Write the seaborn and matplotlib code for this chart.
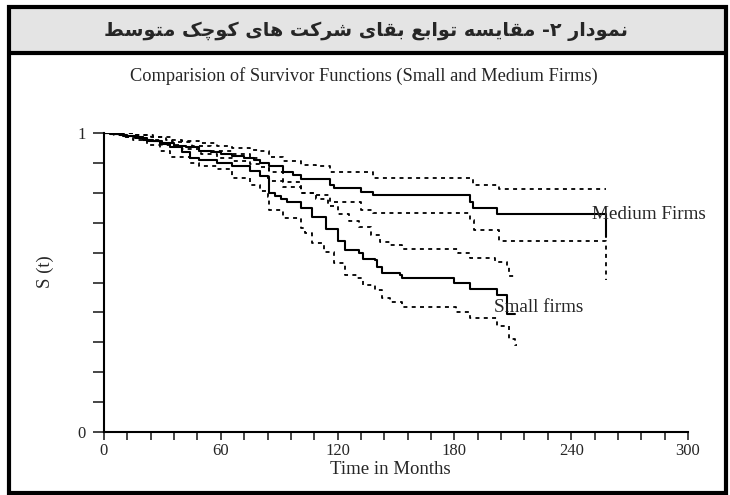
import matplotlib
matplotlib.use("Agg")
import matplotlib.pyplot as plt
from matplotlib.patches import Rectangle
from matplotlib.ticker import MultipleLocator
import seaborn as sns
import pandas as pd

# ─────────────────────────────────────────────
# DATA (step-change points)
# ─────────────────────────────────────────────
med_t = [0, 3, 8, 12, 16, 20, 25, 30, 36, 42, 49, 55, 60, 66, 72, 77, 80, 85, 92, 97,
         101, 116, 118, 132, 138, 188, 189.5, 202, 258]
med_s = [1.0, 0.997, 0.993, 0.99, 0.985, 0.978, 0.972, 0.965, 0.958, 0.952, 0.94, 0.935,
         0.93, 0.923, 0.916, 0.91, 0.90, 0.89, 0.87, 0.86, 0.845, 0.826, 0.816, 0.803,
         0.793, 0.769, 0.749, 0.729, 0.652]

med_up_t = [0, 5, 15, 24, 32, 40, 49, 58, 66, 75, 79, 85, 92, 101, 109, 116, 138, 189.5, 203, 258]
med_up_s = [1.0, 1.0, 0.993, 0.987, 0.977, 0.972, 0.967, 0.958, 0.95, 0.943, 0.94, 0.92,
            0.905, 0.893, 0.89, 0.868, 0.849, 0.826, 0.813, 0.813]

med_lo_t = [0, 5, 12, 20, 30, 40, 50, 58, 66, 75, 80, 85, 92, 101, 109, 116, 132, 138,
            188, 190, 203, 258]
med_lo_s = [1.0, 0.995, 0.987, 0.975, 0.96, 0.945, 0.93, 0.918, 0.908, 0.895, 0.885, 0.84,
            0.82, 0.799, 0.793, 0.768, 0.742, 0.732, 0.709, 0.676, 0.639, 0.508]

small_t = [0, 4, 10, 16, 22, 29, 34, 40, 44, 49, 58, 66, 75, 80, 84, 85, 88, 91, 94, 101,
           107, 114, 120, 124, 131, 133, 139, 140, 143, 152, 153, 180, 188, 202, 207, 211]
small_s = [1.0, 0.995, 0.99, 0.982, 0.973, 0.963, 0.953, 0.935, 0.916, 0.91, 0.9, 0.89,
           0.873, 0.856, 0.85, 0.80, 0.79, 0.78, 0.77, 0.75, 0.72, 0.68, 0.64, 0.61, 0.60,
           0.58, 0.575, 0.552, 0.532, 0.525, 0.515, 0.498, 0.478, 0.458, 0.395, 0.395]

small_up_t = [0, 8, 15, 25, 35, 45, 55, 66, 75, 80, 85, 92, 101, 109, 115, 120, 126, 131,
              137, 142, 147, 153, 182, 188, 201, 207, 208, 212]
small_up_s = [1.0, 1.0, 0.993, 0.985, 0.97, 0.955, 0.94, 0.93, 0.915, 0.9, 0.87, 0.835,
              0.80, 0.78, 0.755, 0.73, 0.705, 0.685, 0.66, 0.635, 0.625, 0.612, 0.599,
              0.582, 0.569, 0.552, 0.522, 0.522]

small_lo_t = [0, 5, 10, 15, 22, 29, 34, 44, 49, 58, 66, 75, 80, 84, 85, 92, 101, 103, 107,
              113, 118, 124, 130, 133, 139, 143, 147, 153, 181, 188, 202, 208, 211, 212]
small_lo_s = [1.0, 0.993, 0.985, 0.975, 0.96, 0.94, 0.92, 0.90, 0.89, 0.88, 0.85, 0.826,
              0.806, 0.786, 0.742, 0.716, 0.682, 0.666, 0.632, 0.602, 0.565, 0.525, 0.515,
              0.492, 0.475, 0.448, 0.435, 0.418, 0.40, 0.38, 0.355, 0.31, 0.29, 0.29]

x_ticks = [0, 60, 120, 180, 240, 300]
y_ticks = [0, 1]

title_fa = "نمودار ۲- مقایسه توابع بقای شرکت های کوچک متوسط"
title_en = "Comparision of Survivor Functions (Small and Medium Firms)"


# ─────────────────────────────────────────────
# minimal Persian shaping (matplotlib does no Arabic joining)
# forms: isolated, final, initial, medial ; None for right-joining letters
# ─────────────────────────────────────────────
FORMS = {
    "ن": (0xFEE5, 0xFEE6, 0xFEE7, 0xFEE8), "م": (0xFEE1, 0xFEE2, 0xFEE3, 0xFEE4),
    "ق": (0xFED5, 0xFED6, 0xFED7, 0xFED8), "ی": (0xFBFC, 0xFBFD, 0xFBFE, 0xFBFF),
    "س": (0xFEB1, 0xFEB2, 0xFEB3, 0xFEB4), "ه": (0xFEE9, 0xFEEA, 0xFEEB, 0xFEEC),
    "ت": (0xFE95, 0xFE96, 0xFE97, 0xFE98), "ب": (0xFE8F, 0xFE90, 0xFE91, 0xFE92),
    "ع": (0xFEC9, 0xFECA, 0xFECB, 0xFECC), "ش": (0xFEB5, 0xFEB6, 0xFEB7, 0xFEB8),
    "ک": (0xFB8E, 0xFB8F, 0xFB90, 0xFB91), "چ": (0xFB7A, 0xFB7B, 0xFB7C, 0xFB7D),
    "ط": (0xFEC1, 0xFEC2, 0xFEC3, 0xFEC4),
    "و": (0xFEED, 0xFEEE, None, None), "د": (0xFEA9, 0xFEAA, None, None),
    "ا": (0xFE8D, 0xFE8E, None, None), "ر": (0xFEAD, 0xFEAE, None, None),
}


def shape_fa(text):
    out = []
    for i, ch in enumerate(text):
        if ch not in FORMS:
            out.append(ch)
            continue
        f = FORMS[ch]
        prev = text[i - 1] if i > 0 else ""
        nxt = text[i + 1] if i + 1 < len(text) else ""
        join_prev = prev in FORMS and FORMS[prev][2] is not None
        join_next = nxt in FORMS and f[2] is not None
        if join_prev and join_next:
            code = f[3]
        elif join_prev:
            code = f[1]
        elif join_next:
            code = f[2]
        else:
            code = f[0]
        out.append(chr(code))
    return "".join(out)[::-1]


# ─────────────────────────────────────────────
# FIGURE
# ─────────────────────────────────────────────
sns.set_style("ticks")
plt.rcParams["font.family"] = ["Liberation Serif", "DejaVu Serif"]

W, H = 730, 495
fig = plt.figure(figsize=(W / 100, H / 100), dpi=100)
fig.patch.set_facecolor("white")


def fx(px):
    return px / W


def fy(py):
    return 1 - py / H


# frame + grey header band
fig.add_artist(Rectangle((fx(9), fy(52)), fx(717), 45 / H, transform=fig.transFigure,
                         facecolor="#e4e4e4", edgecolor="none", zorder=0))
fig.add_artist(Rectangle((fx(9), fy(493)), fx(717), 486 / H, transform=fig.transFigure,
                         facecolor="none", edgecolor="black", linewidth=3, zorder=5))
fig.add_artist(plt.Line2D([fx(9), fx(726)], [fy(53), fy(53)], transform=fig.transFigure,
                          color="black", linewidth=3, zorder=5))

fig.text(fx(366), fy(31), shape_fa(title_fa), ha="center", va="center", fontsize=13.8,
         fontweight="bold", family=["DejaVu Sans"])
fig.text(fx(364), fy(76), title_en, ha="center", va="center", fontsize=13.2)

ax = fig.add_axes([fx(104), fy(432), fx(688) - fx(104), fy(133) - fy(432)])
ax.set_facecolor("white")

solid = dict(color="black", linewidth=1.5, drawstyle="steps-post")
dotted = dict(color="black", linewidth=1.3, drawstyle="steps-post", linestyle=(0, (2.2, 2.4)))

curves = [
    (med_t, med_s, solid), (med_up_t, med_up_s, dotted), (med_lo_t, med_lo_s, dotted),
    (small_t, small_s, solid), (small_up_t, small_up_s, dotted), (small_lo_t, small_lo_s, dotted),
]
for t, s, style in curves:
    df = pd.DataFrame({"t": t, "s": s})
    sns.lineplot(data=df, x="t", y="s", ax=ax, estimator=None, sort=False, **style)

ax.text(250.5, 0.727, "Medium Firms", va="center", ha="left", fontsize=13.8)
ax.text(200.3, 0.418, "Small firms", va="center", ha="left", fontsize=13.8)

ax.set_xlim(0, 300)
ax.set_ylim(0, 1)
ax.set_xticks(x_ticks)
ax.set_yticks(y_ticks)
ax.xaxis.set_minor_locator(MultipleLocator(12))
ax.yaxis.set_minor_locator(MultipleLocator(0.1))
ax.tick_params(axis="x", which="both", direction="out", length=6, width=1.2, labelsize=12, pad=2)
ax.tick_params(axis="y", which="both", direction="out", length=8, width=1.2, labelsize=12, pad=5)

ax.set_xlabel("Time in Months", fontsize=13.5)
ax.xaxis.set_label_coords((390 - 104) / 584, (432 - 470) / 299)
ax.xaxis.label.set_va("center")
ax.set_ylabel("S (t)", fontsize=13.5)
ax.yaxis.set_label_coords((45 - 104) / 584, (432 - 272) / 299)
ax.yaxis.label.set_va("center")

for side in ["top", "right"]:
    ax.spines[side].set_visible(False)
for side in ["left", "bottom"]:
    ax.spines[side].set_linewidth(1.5)
    ax.spines[side].set_color("black")
ax.grid(False)

fig.savefig("out.png", dpi=100)
